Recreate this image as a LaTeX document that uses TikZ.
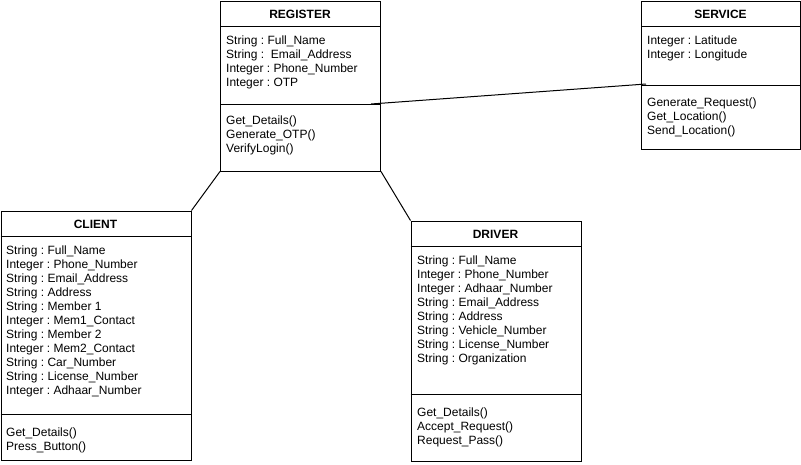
\documentclass[tikz,border=0pt]{standalone}
\usepackage{fontspec}
\setmainfont{Liberation Sans}
\frenchspacing
\begin{document}
\begin{tikzpicture}[x=1pt,y=-1pt,
  classbox/.style={draw=black,line width=1pt,fill=white,inner sep=0pt,anchor=north west},
  title/.style={font=\fontsize{12}{14}\selectfont\bfseries,inner sep=0pt,anchor=base},
  members/.style={font=\fontsize{12}{14}\selectfont\frenchspacing,inner sep=0pt,anchor=base west,align=left},
  sep/.style={line width=1pt},
  link/.style={line width=1pt}]
\useasboundingbox (0,0) rectangle (801,464);
\fill[white] (0,0) rectangle (801,464);

% REGISTER (anchor = baseline of last line)
\node[classbox,minimum width=160pt,minimum height=170pt] (reg) at (220,0.5) {};
\draw[sep] (220,26) -- (380,26);
\draw[sep] (220,104) -- (380,104);
\node[title] (regt) at (300,18) {REGISTER};
\node[members] (rega) at (226,86) {String : Full\_Name\\String :\ \ Email\_Address\\Integer : Phone\_Number\\Integer : OTP};
\node[members] (regm) at (226,152) {Get\_Details()\\Generate\_OTP()\\VerifyLogin()};

% SERVICE
\node[classbox,minimum width=159pt,minimum height=148pt] (srv) at (641,0.5) {};
\draw[sep] (641,26) -- (800,26);
\draw[sep] (641,85) -- (800,85);
\node[title] (srvt) at (720.5,18) {SERVICE};
\node[members] (srva) at (647,58) {Integer : Latitude\\Integer : Longitude};
\node[members] (srvm) at (647,134) {Generate\_Request()\\Get\_Location()\\Send\_Location()};

% CLIENT
\node[classbox,minimum width=190pt,minimum height=249pt] (cli) at (0.5,210.5) {};
\draw[sep] (0.5,236) -- (190.5,236);
\draw[sep] (0.5,414) -- (190.5,414);
\node[title] (clit) at (95.5,228) {CLIENT};
\node[members] (clia) at (6,394) {String : Full\_Name\\Integer : Phone\_Number\\String : Email\_Address\\String : Address\\String : Member 1\\Integer : Mem1\_Contact\\String : Member 2\\Integer : Mem2\_Contact\\String : Car\_Number\\String : License\_Number\\Integer : Adhaar\_Number};
\node[members] (clim) at (6,450) {Get\_Details()\\Press\_Button()};

% DRIVER
\node[classbox,minimum width=170pt,minimum height=240pt] (drv) at (410.5,220.5) {};
\draw[sep] (410.5,246) -- (580.5,246);
\draw[sep] (410.5,394) -- (580.5,394);
\node[title] (drvt) at (495.5,238) {DRIVER};
\node[members] (drva) at (417,362) {String : Full\_Name\\Integer : Phone\_Number\\Integer : Adhaar\_Number\\String : Email\_Address\\String : Address\\String : Vehicle\_Number\\String : License\_Number\\String : Organization};
\node[members] (drvm) at (417,444) {Get\_Details()\\Accept\_Request()\\Request\_Pass()};

% connectors
\coordinate (regend) at (371,104);
\coordinate (srvend) at (646,84);
\draw[link] (regend) -- (srvend);
\draw[link] (reg.south west) -- (cli.north east);
\draw[link] (reg.south east) -- (drv.north west);
\end{tikzpicture}
\end{document}
